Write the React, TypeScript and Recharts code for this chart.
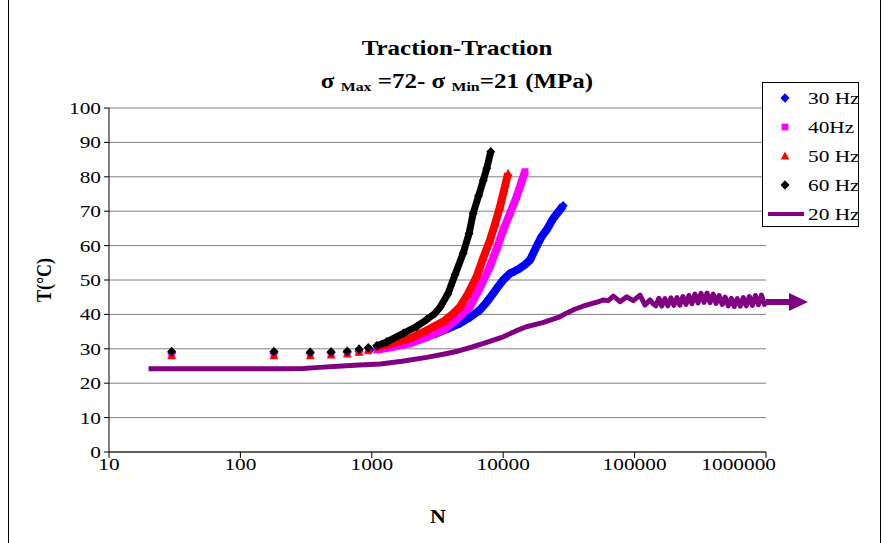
import React from 'react';
import { ScatterChart, Scatter, XAxis, YAxis, CartesianGrid, Legend } from 'recharts';

// ---------- data ----------
const xTicks = [10, 100, 1000, 10000, 100000, 1000000];
const yTicks = [0, 10, 20, 30, 40, 50, 60, 70, 80, 90, 100];

// 30 Hz (blue)
const n30 = [30, 180, 340, 490, 650, 800, 970, 1150, 1400, 1740, 2100, 2600, 3110, 3800, 4690, 5600, 6650, 7500, 8400, 9200, 10000, 11270, 12300, 13400, 14700, 16000, 17900, 19600, 21500, 24000, 26500, 28600];
const t30 = [28.8, 28.8, 28.8, 28.9, 29.0, 29.3, 29.7, 30.3, 30.9, 31.6, 32.5, 33.5, 34.5, 35.9, 37.4, 39.2, 41.3, 43.6, 46.1, 48.2, 50.0, 51.9, 52.6, 53.4, 54.5, 55.8, 59.7, 62.6, 64.7, 67.9, 70.0, 71.6];

// 40 Hz (magenta)
const n40 = [30, 180, 340, 490, 650, 800, 940, 1090, 1400, 1950, 2600, 3500, 4400, 5580, 6600, 7940, 9000, 10000, 11300, 12650, 13700, 14660];
const t40 = [28.5, 28.5, 28.5, 28.6, 28.8, 29.1, 29.4, 29.7, 30.4, 31.6, 33.3, 35.5, 38.5, 42.2, 47.5, 54.0, 59.5, 64.5, 69.5, 74.2, 78.2, 81.5];

// 50 Hz (red)
const n50 = [30, 180, 340, 490, 650, 800, 940, 1090, 1400, 1950, 2600, 3500, 4100, 4690, 5400, 6280, 7060, 7940, 8700, 9460, 10200, 10900];
const t50 = [28.0, 28.0, 28.0, 28.2, 28.5, 29.0, 29.7, 30.6, 31.5, 33.0, 35.3, 37.9, 40.0, 42.2, 46.0, 51.0, 56.5, 61.6, 66.5, 71.3, 76.5, 81.0];

// 60 Hz (black)
const n60 = [30, 180, 340, 490, 650, 800, 940, 1090, 1300, 1740, 2200, 2620, 3000, 3300, 3800, 4300, 4960, 5500, 5910, 6500, 7060, 7500, 8040];
const t60 = [29.2, 29.2, 29.0, 29.1, 29.3, 29.9, 30.3, 30.9, 32.0, 34.5, 36.5, 38.5, 40.2, 42.0, 46.0, 51.5, 57.8, 63.5, 69.4, 74.5, 79.0, 82.5, 87.3];

// 20 Hz (purple line)
const n20 = [20, 50, 100, 200, 300, 400, 550, 800, 1160, 1700, 2620, 3500, 4500, 5900, 7500, 10000, 12500, 15000, 20000, 27000, 30800, 35000, 40000, 45700, 52000, 57800, 63000, 68900, 77400, 87100, 97800, 110000, 120000, 131000, 139000,
  145000, 153000, 161000, 170000, 179000, 189000, 199000, 210000, 221000, 233000, 246000, 259000, 273000, 288000, 304000, 320000, 338000, 356000, 375000, 396000, 417000, 440000, 464000, 489000, 516000, 544000, 573000, 604000, 637000, 672000, 708000, 747000, 787000, 830000, 875000, 923000, 973000, 1000000];
const t20 = [24.2, 24.2, 24.2, 24.2, 24.3, 24.6, 24.9, 25.3, 25.6, 26.4, 27.5, 28.4, 29.3, 30.6, 31.9, 33.5, 35.2, 36.4, 37.6, 39.3, 40.5, 41.5, 42.3, 43.0, 43.6, 44.2, 44.0, 45.3, 43.7, 45.1, 44.0, 45.6, 42.7, 44.2, 43.0,
  42.5, 44.7, 42.4, 44.6, 42.5, 44.8, 42.6, 44.9, 42.7, 45.2, 42.9, 45.5, 43.1, 45.9, 43.3, 46.1, 43.5, 46.2, 43.4, 45.9, 43.2, 45.5, 42.9, 45.0, 42.5, 44.7, 42.3, 44.6, 42.4, 44.9, 42.5, 45.2, 42.6, 45.5, 42.8, 45.6, 42.9, 43.6];

const pts = (n: number[], t: number[]) => n.map((x, i) => ({ n: x, t: t[i] }));

const d30 = pts(n30, t30);
const d40 = pts(n40, t40);
const d50 = pts(n50, t50);
const d60 = pts(n60, t60);
const d20 = pts(n20, t20);
const dense = (d: { n: number; t: number }[]) => d.filter((p) => p.n >= 1000);
const d20end = d20.slice(d20.length - 1);

const BLUE = '#0000FF';
const MAGENTA = '#FF00FF';
const RED = '#FF0000';
const BLACK = '#000000';
const PURPLE = '#800080';
const FONT = '"Liberation Serif", "Times New Roman", serif';
const SX = 1.22;

// ---------- marker shapes ----------
const diamond = (color: string) => (p: any) => {
  const { cx, cy } = p;
  const rx = 4.5, ry = 4.8;
  return <polygon points={`${cx},${cy - ry} ${cx + rx},${cy} ${cx},${cy + ry} ${cx - rx},${cy}`} fill={color} />;
};
const square = (color: string) => (p: any) => {
  const { cx, cy } = p;
  const s = 3.4;
  return <rect x={cx - s} y={cy - s} width={2 * s} height={2 * s} fill={color} />;
};
const triangle = (color: string) => (p: any) => {
  const { cx, cy } = p;
  return <polygon points={`${cx},${cy - 4.5} ${cx + 4.3},${cy + 3.5} ${cx - 4.3},${cy + 3.5}`} fill={color} />;
};
const none = () => <g />;
const arrow = (p: any) => {
  const { cx, cy } = p;
  return (
    <g>
      <line x1={cx} y1={cy} x2={cx + 26} y2={cy} stroke={PURPLE} strokeWidth={6} />
      <polygon points={`${cx + 23},${cy - 9} ${cx + 42},${cy} ${cx + 23},${cy + 9}`} fill={PURPLE} />
    </g>
  );
};

// ---------- ticks ----------
const XTick = (p: any) => {
  const { x, y, payload } = p;
  const last = payload.value === 1000000;
  const tx = last ? x + 10 : x;
  return (
    <text
      transform={`translate(${tx},${y + 10}) scale(${SX},1)`}
      textAnchor={last ? 'end' : 'middle'}
      fontFamily={FONT}
      fontSize={17.5}
      fill="#000"
    >
      {payload.value}
    </text>
  );
};
const YTick = (p: any) => {
  const { x, y, payload } = p;
  return (
    <text transform={`translate(${x - 1},${y + 6}) scale(${SX},1)`} textAnchor="end" fontFamily={FONT} fontSize={17.5} fill="#000">
      {payload.value}
    </text>
  );
};

// ---------- legend ----------
const legendItems = [
  { label: '30 Hz', kind: 'diamond', color: BLUE },
  { label: '40Hz', kind: 'square', color: MAGENTA },
  { label: '50 Hz', kind: 'triangle', color: RED },
  { label: '60 Hz', kind: 'diamond', color: BLACK },
  { label: '20 Hz', kind: 'line', color: PURPLE },
];
const LegendBox = () => (
  <svg width={97} height={145} style={{ display: 'block' }}>
    <rect x={0.5} y={0.5} width={96} height={144} fill="#fff" stroke="#000" strokeWidth={1} />
    {legendItems.map((it, i) => {
      const cy = 16 + i * 29;
      const cx = 23;
      let m: React.ReactNode = null;
      if (it.kind === 'diamond') m = diamond(it.color)({ cx, cy });
      else if (it.kind === 'square') m = square(it.color)({ cx, cy });
      else if (it.kind === 'triangle') m = triangle(it.color)({ cx, cy });
      else m = <line x1={6} y1={cy} x2={42} y2={cy} stroke={it.color} strokeWidth={4} />;
      return (
        <g key={it.label}>
          {m}
          <text transform={`translate(46,${cy + 6}) scale(${SX},1)`} fontFamily={FONT} fontSize={17.5} fill="#000">
            {it.label}
          </text>
        </g>
      );
    })}
  </svg>
);

export default function App() {
  return (
    <div style={{ position: 'absolute', left: 0, top: 0, width: 890, height: 543, background: '#fff' }}>
      <ScatterChart width={890} height={543} margin={{ top: 108, right: 124, bottom: 51, left: 49 }}>
        <CartesianGrid horizontal vertical={false} stroke="#808080" strokeWidth={1} />
        <XAxis
          type="number"
          dataKey="n"
          scale="log"
          domain={[10, 1000000]}
          ticks={xTicks}
          height={40}
          tickSize={6}
          tick={<XTick />}
          axisLine={{ stroke: '#000' }}
          tickLine={{ stroke: '#000' }}
          interval={0}
        />
        <YAxis
          type="number"
          dataKey="t"
          domain={[0, 100]}
          ticks={yTicks}
          width={60}
          tickSize={5}
          tick={<YTick />}
          axisLine={{ stroke: '#000' }}
          tickLine={{ stroke: '#000' }}
          interval={0}
        />
        <Legend
          layout="horizontal"
          verticalAlign="middle"
          align="center"
          content={() => <LegendBox />}
          wrapperStyle={{ left: 762, top: 82, width: 97, height: 145 }}
        />
        <Scatter data={d20} shape={none} line={{ stroke: PURPLE, strokeWidth: 5, strokeLinejoin: 'round' }} lineType="joint" isAnimationActive={false} />
        <Scatter data={d20end} shape={arrow} isAnimationActive={false} />
        <Scatter data={dense(d30)} shape={none} line={{ stroke: BLUE, strokeWidth: 8, strokeLinejoin: 'round' }} lineType="joint" isAnimationActive={false} />
        <Scatter data={d30} shape={diamond(BLUE)} isAnimationActive={false} />
        <Scatter data={dense(d40)} shape={none} line={{ stroke: MAGENTA, strokeWidth: 8, strokeLinejoin: 'round' }} lineType="joint" isAnimationActive={false} />
        <Scatter data={d40} shape={square(MAGENTA)} isAnimationActive={false} />
        <Scatter data={dense(d50)} shape={none} line={{ stroke: RED, strokeWidth: 8, strokeLinejoin: 'round' }} lineType="joint" isAnimationActive={false} />
        <Scatter data={d50} shape={triangle(RED)} isAnimationActive={false} />
        <Scatter data={dense(d60)} shape={none} line={{ stroke: BLACK, strokeWidth: 7, strokeLinejoin: 'round' }} lineType="joint" isAnimationActive={false} />
        <Scatter data={d60} shape={diamond(BLACK)} isAnimationActive={false} />
      </ScatterChart>
      <svg width={890} height={543} style={{ position: 'absolute', left: 0, top: 0, pointerEvents: 'none' }}>
        <line x1={8.5} y1={0} x2={8.5} y2={543} stroke="#000" strokeWidth={1} />
        <line x1={880.5} y1={0} x2={880.5} y2={543} stroke="#000" strokeWidth={1} />
        <text transform={`translate(457,55) scale(${SX},1)`} textAnchor="middle" fontFamily={FONT} fontWeight="bold" fontSize={20.5} fill="#000">
          Traction-Traction
        </text>
        <text transform={`translate(457,88) scale(${SX},1)`} textAnchor="middle" fontFamily={FONT} fontWeight="bold" fontSize={20.5} fill="#000">
          <tspan>σ </tspan>
          <tspan fontSize={13} dy={3}>Max</tspan>
          <tspan dy={-3}> =72- σ </tspan>
          <tspan fontSize={13} dy={3}>Min</tspan>
          <tspan dy={-3}>=21 (MPa)</tspan>
        </text>
        <text transform={`translate(51,280) scale(${SX},1) rotate(-90)`} textAnchor="middle" fontFamily={FONT} fontWeight="bold" fontSize={18} fill="#000">
          T(°C)
        </text>
        <text transform={`translate(438,523) scale(${SX},1)`} textAnchor="middle" fontFamily={FONT} fontWeight="bold" fontSize={18} fill="#000">
          N
        </text>
      </svg>
    </div>
  );
}
